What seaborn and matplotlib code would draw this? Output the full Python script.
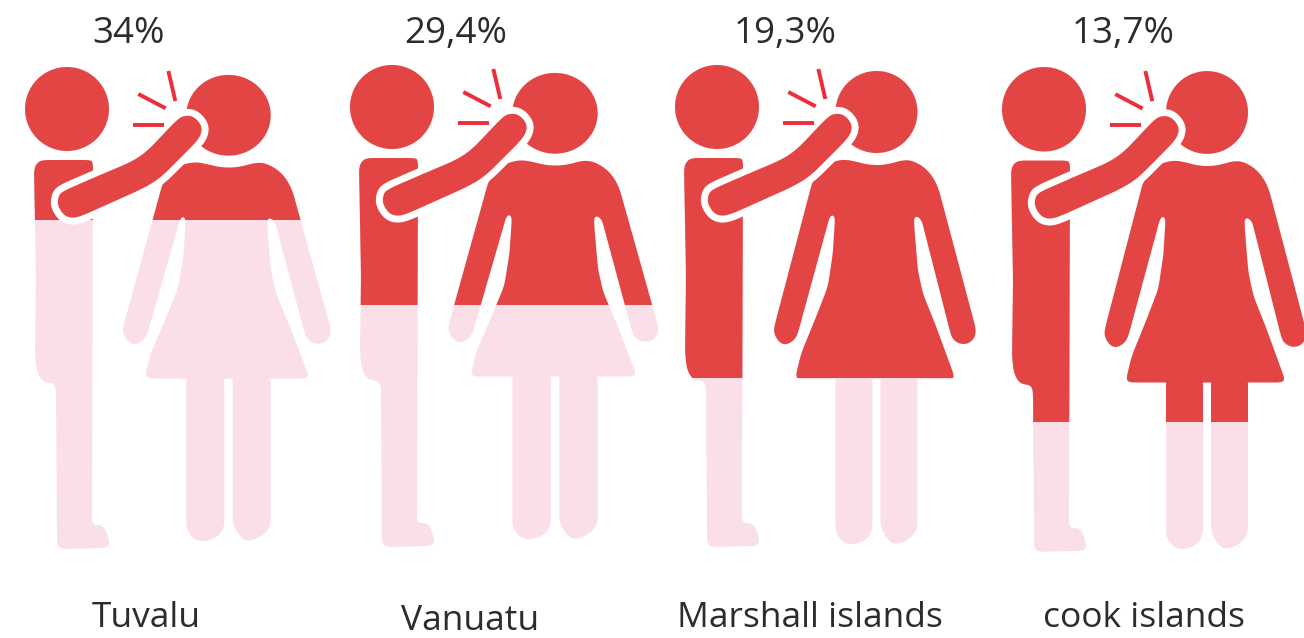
import numpy as np
import pandas as pd
import matplotlib
matplotlib.use('Agg')
import matplotlib.pyplot as plt
from matplotlib.patches import PathPatch
from matplotlib.path import Path
from matplotlib.transforms import Affine2D
import seaborn as sns

# values
countries = ['Tuvalu', 'Vanuatu', 'Marshall islands', 'cook islands']
value_labels = ['34%', '29,4%', '19,3%', '13,7%']
red_share = [32.0, 49.4, 64.3, 73.4]
full_share = [100, 100, 100, 100]

RED = '#e34544'
PINK = '#fbdfe8'
TICK = '#ee2d3a'
INK = '#2c2c2c'
W, H = 1304, 638

# pixel layout of the four panels
man_x = [67, 392, 717, 1044]
man_top = [67, 65, 65, 67]
man_sy = [1.0, 1.0, 1.0, 1.006]
woman_x = [228.5, 555, 876.5, 1207]
woman_top = [69, 67, 65, 65]
woman_sx = [1.03, 1.04, 1.0, 1.0]
woman_sy = [0.985, 0.985, 1.0, 1.01]
value_x = [129, 456, 785, 1123]
label_x = [146, 470, 810, 1144]
label_y = [618, 621, 618, 618]

MAN_BODY = [(-33, 102), (-30, 96), (-25, 93), (23, 93), (26, 95), (25, 458), (33, 458), (38, 461),
            (42, 473), (42, 478), (39, 481), (-6, 482), (-10, 478), (-11, 321), (-14, 316),
            (-24, 315), (-30, 305), (-32, 288), (-31, 212)]

# traced in zoomed pixels of the Marshall islands figure
DRESS_Z = [(430, 150), (460, 110), (490, 95), (525, 88), (560, 95), (590, 103), (625, 106), (660, 102),
           (700, 90), (730, 92), (765, 112), (790, 140), (807, 175), (920, 600), (915, 625), (895, 642),
           (870, 642), (850, 628), (843, 610), (755, 265), (733, 257), (735, 300), (745, 420), (760, 490),
           (800, 590), (855, 740), (845, 748), (390, 748), (378, 740), (395, 670), (440, 560), (475, 470),
           (490, 370), (497, 258), (482, 255), (385, 610), (375, 630), (350, 645), (330, 638), (315, 615),
           (313, 595)]
DRESS = [(zx / 3 - 207, zy / 3 + 65) for zx, zy in DRESS_Z]
LEG_L = [(-41, 310), (-4, 310), (-4, 465), (-10, 475), (-23, 480), (-33, 478), (-41, 468)]
LEG_R = [(4, 310), (41, 310), (41, 465), (32, 475), (19, 480), (11, 475), (4, 462)]

ARM_Z = [(185, 425), (300, 375), (395, 335), (440, 305), (530, 210), (550, 197), (580, 198), (605, 225),
         (605, 250), (590, 275), (480, 385), (430, 415), (245, 498), (215, 505), (190, 495), (172, 465),
         (175, 440)]
ARM = [(zx / 3 - 67, zy / 3 - 17) for zx, zy in ARM_Z]
STROKES_Z = [[(398, 224), (493, 224)], [(415, 132), (497, 175)], [(505, 63), (526, 153)]]


def rounded(points, r=7, n=5):
    # round each traced corner with a small quadratic curve
    pts = np.array(points, dtype=float)
    out = []
    for i in range(len(pts)):
        prev, cur, nxt = pts[i - 1], pts[i], pts[(i + 1) % len(pts)]
        d1, d2 = np.linalg.norm(prev - cur), np.linalg.norm(nxt - cur)
        a = cur + (prev - cur) / d1 * min(r, d1 / 2)
        b = cur + (nxt - cur) / d2 * min(r, d2 / 2)
        for t in np.linspace(0, 1, n):
            out.append((1 - t) ** 2 * a + 2 * t * (1 - t) * cur + t ** 2 * b)
    return np.array(out)


def poly(points):
    pts = np.array(points, dtype=float)
    x, y = pts[:, 0], pts[:, 1]
    # same winding everywhere so overlapping parts stay filled
    if np.sum(x * np.roll(y, -1) - np.roll(x, -1) * y) < 0:
        pts = pts[::-1]
    return Path(np.vstack([pts, pts[0]]), closed=True)


def head(cy, r):
    t = np.linspace(0, 2 * np.pi, 72, endpoint=False)
    return poly(np.column_stack([r * np.cos(t), cy + r * np.sin(t)]))


man_path = Path.make_compound_path(head(42, 42), poly(rounded(MAN_BODY)))
woman_path = Path.make_compound_path(head(47, 41), poly(rounded(DRESS)), poly(rounded(LEG_L)), poly(rounded(LEG_R)))

df = pd.DataFrame({'country': countries, 'red': red_share, 'full': full_share})

sns.set_theme(style='white')
plt.rcParams['font.family'] = ['Open Sans', 'DejaVu Sans']
fig = plt.figure(figsize=(W / 100, H / 100), dpi=100)
ax = fig.add_axes([0, 0, 1, 1])

sns.barplot(data=df, x='country', y='full', color=PINK, saturation=1, width=1, linewidth=0, ax=ax)
sns.barplot(data=df, x='country', y='red', color=RED, saturation=1, width=1, linewidth=0, ax=ax)

# bars fill from the top of the figure, 100 = bottom of the tallest figure
ax.set_ylim((H - 64) / 4.88, -64 / 4.88)
ax.set_xlim(-0.54, -0.54 + W / 325)
ax.axis('off')

to_screen = Affine2D().scale(1, -1).translate(0, H)
bars = ax.patches
arm = poly(rounded(ARM, r=12))
for i in range(4):
    man_tr = Affine2D().scale(1, man_sy[i]).translate(man_x[i], man_top[i]) + to_screen
    woman_tr = Affine2D().scale(woman_sx[i], woman_sy[i]).translate(woman_x[i], woman_top[i]) + to_screen
    both = Path.make_compound_path(man_path.transformed(man_tr), woman_path.transformed(woman_tr))
    bars[i].set_clip_path(both, Affine2D())
    bars[i + 4].set_clip_path(both, Affine2D())

    ax.add_patch(PathPatch(arm, transform=man_tr, facecolor='white', edgecolor='white', lw=10,
                           joinstyle='round', zorder=5))
    ax.add_patch(PathPatch(arm, transform=man_tr, facecolor=RED, edgecolor='none', zorder=6))
    for seg in STROKES_Z:
        xs = [p[0] / 3 - 67 for p in seg]
        ys = [p[1] / 3 - 17 for p in seg]
        ax.plot(xs, ys, color=TICK, lw=2.8, solid_capstyle='butt', transform=man_tr, zorder=6)

    ax.text(value_x[i], 34, value_labels[i], transform=to_screen, ha='center', va='center',
            fontsize=26.5, color=INK)
    ax.text(label_x[i], label_y[i], countries[i], transform=to_screen, ha='center', va='center',
            fontsize=25.5, color=INK)

fig.savefig('out.png', dpi=100)
